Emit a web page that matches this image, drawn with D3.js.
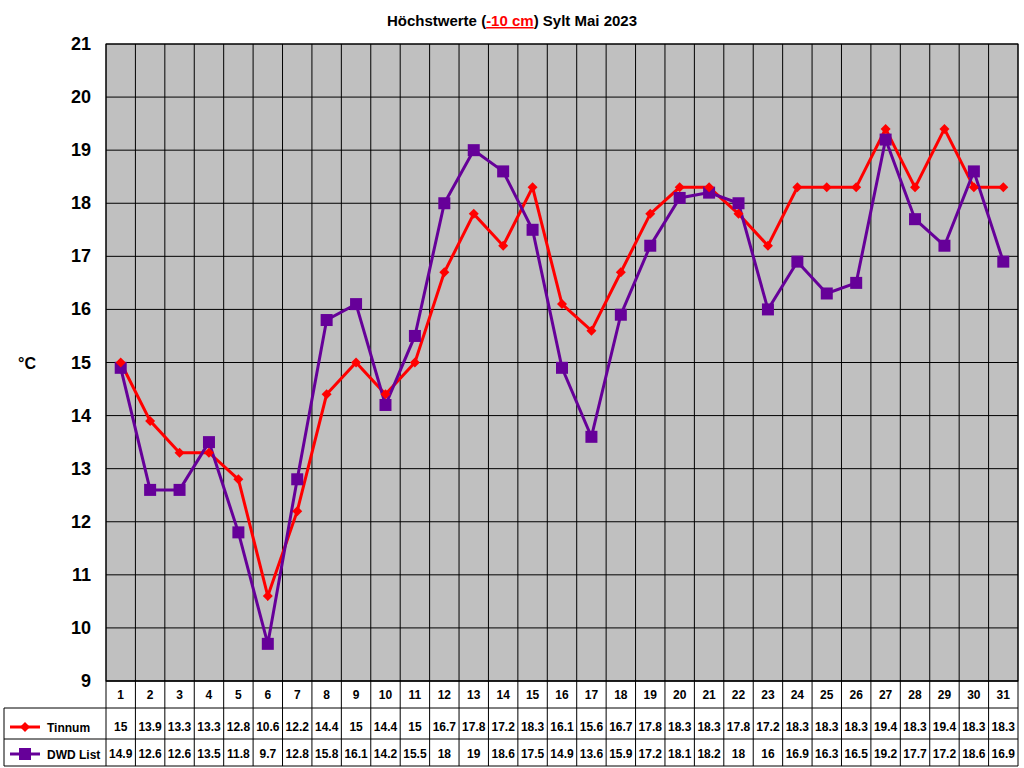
<!DOCTYPE html>
<html><head><meta charset="utf-8">
<script src="https://cdn.jsdelivr.net/npm/d3@7"></script>
<style>body{margin:0;background:#fff;font-family:Arial,"Liberation Sans",sans-serif}</style>
</head><body><svg id="c" width="1024" height="768"></svg>
<script>
const days = d3.range(1,32).map(String);
const tinnum = [15,13.9,13.3,13.3,12.8,10.6,12.2,14.4,15,14.4,15,16.7,17.8,17.2,18.3,16.1,15.6,16.7,17.8,18.3,18.3,17.8,17.2,18.3,18.3,18.3,19.4,18.3,19.4,18.3,18.3];
const dwd = [14.9,12.6,12.6,13.5,11.8,9.7,12.8,15.8,16.1,14.2,15.5,18,19,18.6,17.5,14.9,13.6,15.9,17.2,18.1,18.2,18,16,16.9,16.3,16.5,19.2,17.7,17.2,18.6,16.9];
const yTicks = d3.range(9,22);
const series = [{name:"Tinnum",vals:tinnum,color:"#ff0000",shape:"diamond"},{name:"DWD List",vals:dwd,color:"#660099",shape:"square"}];

const svg = d3.select("#c");
const L=106,R=1018,T=44,B=681;
const x = d3.scaleBand().domain(days).range([L,R]);
const y = d3.scaleLinear().domain([9,21]).range([B,T]);

svg.append("rect").attr("x",L).attr("y",T).attr("width",R-L).attr("height",B-T).attr("fill","#c0c0c0");
svg.selectAll(".hg").data(yTicks).join("line").attr("x1",L).attr("x2",R).attr("y1",d=>y(d)).attr("y2",d=>y(d)).attr("stroke","#000");
svg.selectAll(".vg").data(days.concat(["end"])).join("line")
  .attr("x1",(d,i)=>L+i*x.bandwidth()).attr("x2",(d,i)=>L+i*x.bandwidth())
  .attr("y1",T).attr("y2",766).attr("stroke","#000");
svg.append("rect").attr("x",L).attr("y",T).attr("width",R-L).attr("height",B-T).attr("fill","none").attr("stroke","#000");
svg.selectAll(".yl").data(yTicks).join("text").attr("x",91).attr("y",d=>y(d)+6).attr("text-anchor","end")
  .attr("font-size",18).attr("font-weight","bold").text(d=>d);
svg.append("text").attr("x",18).attr("y",369).attr("font-size",16).attr("font-weight","bold").text("°C");

const t = svg.append("text").attr("x",512).attr("y",26).attr("text-anchor","middle").attr("font-size",15).attr("font-weight","bold");
t.append("tspan").text("Höchstwerte (");
t.append("tspan").attr("fill","#ff0000").attr("text-decoration","underline").text("-10 cm");
t.append("tspan").text(") Sylt Mai 2023");

// table
const rows=[681,708,739,766];
[[4,106],[L,R]].forEach(()=>{});
rows.forEach((ry,i)=>svg.append("line").attr("x1",i==0?L:4).attr("x2",R).attr("y1",ry).attr("y2",ry).attr("stroke","#000"));
svg.append("line").attr("x1",4).attr("x2",4).attr("y1",708).attr("y2",766).attr("stroke","#000");
svg.selectAll(".dl").data(days).join("text").attr("x",d=>x(d)+x.bandwidth()/2).attr("y",699).attr("text-anchor","middle")
  .attr("font-size",12).attr("font-weight","bold").text(d=>d);
series.forEach((s,k)=>{
  const ry = k==0?727:754;
  svg.selectAll(".tv"+k).data(s.vals).join("text").attr("x",(d,i)=>x(days[i])+x.bandwidth()/2).attr("y",ry+4)
    .attr("text-anchor","middle").attr("font-size",12).attr("font-weight","bold").text(d=>d);
  svg.append("line").attr("x1",10).attr("x2",40).attr("y1",ry).attr("y2",ry).attr("stroke",s.color).attr("stroke-width",3);
  drawMarker(svg,s,25,ry);
  svg.append("text").attr("x",47).attr("y",ry+5).attr("font-size",12).attr("font-weight","bold").text(s.name);
});

function drawMarker(g,s,cx,cy){
  if(s.shape=="diamond") g.append("path").attr("d",`M${cx},${cy-5}L${cx+5},${cy}L${cx},${cy+5}L${cx-5},${cy}Z`).attr("fill",s.color);
  else g.append("rect").attr("x",cx-6).attr("y",cy-6).attr("width",12).attr("height",12).attr("fill",s.color);
}
const line = d3.line().x((d,i)=>x(days[i])+x.bandwidth()/2).y(d=>y(d));
series.forEach(s=>{
  svg.append("path").datum(s.vals).attr("d",line).attr("fill","none").attr("stroke",s.color).attr("stroke-width",3);
});
series.slice().reverse().forEach(s=>{
  s.vals.forEach((v,i)=>drawMarker(svg,s,x(days[i])+x.bandwidth()/2,y(v)));
});
</script></body></html>
